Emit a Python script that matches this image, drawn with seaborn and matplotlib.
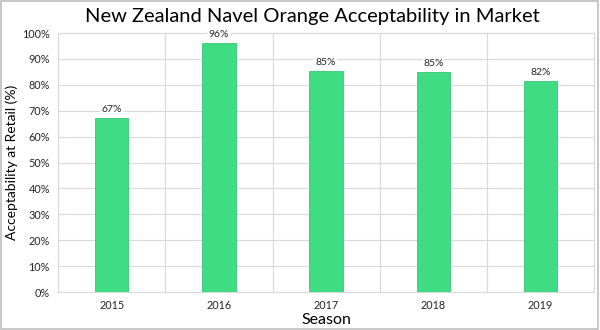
import matplotlib
matplotlib.use("Agg")
import matplotlib.pyplot as plt
import seaborn as sns
import pandas as pd
from matplotlib.ticker import FixedLocator, PercentFormatter
from matplotlib.patches import Rectangle

seasons = ["2015", "2016", "2017", "2018", "2019"]
acceptability = [67.0, 96.0, 85.2, 84.8, 81.4]
value_labels = ["67%", "96%", "85%", "85%", "82%"]

sns.set_theme(style="white")
plt.rcParams['font.family'] = ['Lato', 'DejaVu Sans']

df = pd.DataFrame({"Season": seasons, "Acceptability": acceptability})

fig = plt.figure(figsize=(6, 3.3), dpi=100)
ax = fig.add_axes([0.097, 0.115, 0.893, 0.785])

sns.barplot(data=df, x="Season", y="Acceptability", color="#40dc84",
            saturation=1, width=0.31, edgecolor="#35c874", linewidth=0.6, ax=ax, zorder=3)

for p, lab in zip(ax.patches, value_labels):
    ax.annotate(lab, (p.get_x() + p.get_width() / 2, p.get_height()),
                xytext=(0, 3), textcoords="offset points", ha="center", va="bottom",
                fontsize=7.5, color="#262626", zorder=4,
                bbox=dict(boxstyle="square,pad=0.15", fc="white", ec="none"))

ax.set_xlim(-0.5, len(seasons) - 0.5)
ax.set_ylim(0, 100)
ax.yaxis.set_major_locator(FixedLocator(list(range(0, 101, 10))))
ax.yaxis.set_major_formatter(PercentFormatter(decimals=0))
ax.xaxis.set_minor_locator(FixedLocator([i + 0.5 for i in range(-1, len(seasons))]))
ax.grid(axis="y", which="major", color="#d9d9d9", linewidth=0.8, zorder=0)
ax.grid(axis="x", which="minor", color="#d9d9d9", linewidth=0.8, zorder=0)
ax.set_axisbelow(True)
for s in ax.spines.values():
    s.set_color("#d9d9d9")
    s.set_linewidth(0.8)
ax.tick_params(axis="both", which="both", length=0, labelsize=7.8, colors="#262626", pad=6)
ax.set_xlabel("Season", fontsize=11.5, color="black", labelpad=1)
ax.set_ylabel("Acceptability at Retail (%)", fontsize=10, color="black", labelpad=3)

fig.suptitle("New Zealand Navel Orange Acceptability in Market", fontsize=14.5,
             y=0.975, x=0.52, color="black")

fig.patches.append(Rectangle((0.002, 0.003), 0.995, 0.993, transform=fig.transFigure,
                             fill=False, edgecolor="#bfbfbf", linewidth=1.2))

fig.savefig("out.png", dpi=100)
